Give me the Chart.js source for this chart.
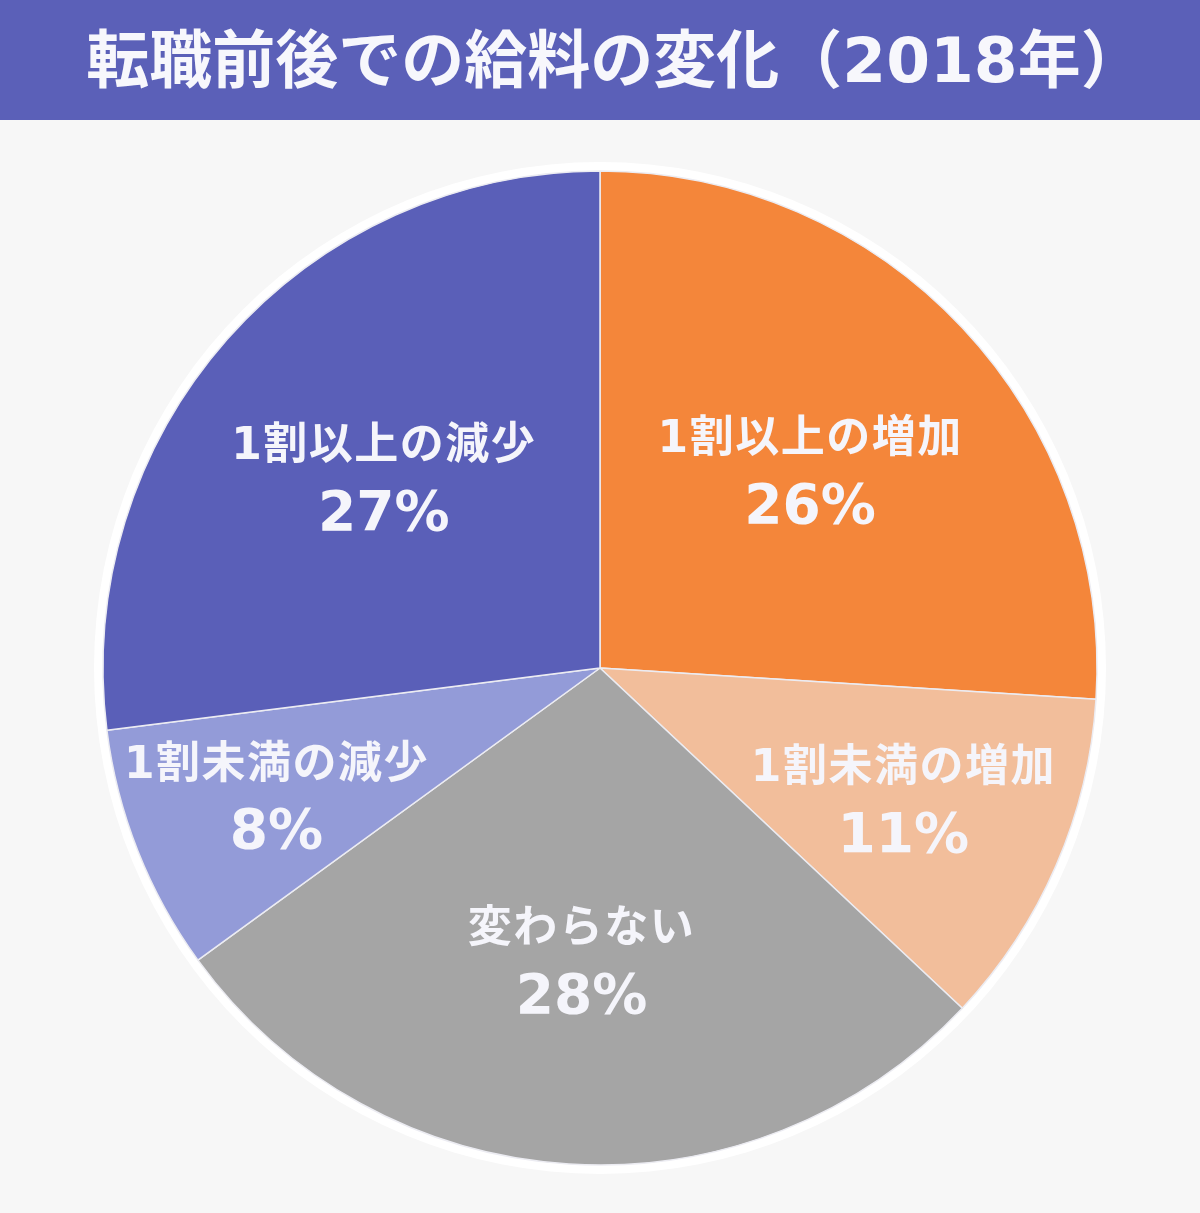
<!DOCTYPE html>
<html lang="ja">
<head>
<meta charset="utf-8">
<script src="https://cdn.jsdelivr.net/npm/chart.js@4"></script>
<style>
    body { margin: 0; background: #f7f7f7; font-family: "DejaVu Sans", "Noto Sans CJK JP", sans-serif; }
    #header {
        height: 120px; background: #5b60b8; color: #f7f7fc;
        font-size: 63px; font-weight: bold; text-align: center; line-height: 122px;
        white-space: nowrap; overflow: hidden; padding-left: 30px;
    }
    #wrap { width: 1200px; height: 1093px; }
</style>
</head>
<body>
<div id="header">転職前後での給料の変化（2018年）</div>
<div id="wrap"><canvas id="pie_chart"></canvas></div>
<script>
const categories = ['1割以上の増加', '1割未満の増加', '変わらない', '1割未満の減少', '1割以上の減少'];
const shares = [26, 11, 28, 8, 27];
const slice_colors = ['#f4863a', '#f2be9b', '#a5a5a5', '#939bd8', '#5a5fb8'];
// how far from the centre each label sits, as a part of the radius
const label_distance = [0.58, 0.665, 0.59, 0.70, 0.58];

const white_ring = {
    id: 'white_ring',
    beforeDatasetsDraw(chart) {
        const arc = chart.getDatasetMeta(0).data[0];
        const ctx = chart.ctx;
        ctx.save();
        ctx.beginPath();
        ctx.arc(arc.x, arc.y, arc.outerRadius + 9, 0, Math.PI * 2);
        ctx.fillStyle = '#ffffff';
        ctx.fill();
        ctx.restore();
    }
};

const slice_labels = {
    id: 'slice_labels',
    afterDatasetsDraw(chart) {
        const ctx = chart.ctx;
        const meta = chart.getDatasetMeta(0);
        ctx.save();
        ctx.fillStyle = '#f5f5fb';
        ctx.textAlign = 'center';
        ctx.textBaseline = 'middle';
        meta.data.forEach((arc, i) => {
            const mid = (arc.startAngle + arc.endAngle) / 2;
            const r = arc.outerRadius * label_distance[i];
            const x = arc.x + Math.cos(mid) * r;
            const y = arc.y + Math.sin(mid) * r;
            ctx.letterSpacing = '1.5px';
            ctx.font = 'bold 44px "DejaVu Sans", "Noto Sans CJK JP"';
            ctx.fillText(categories[i], x, y - 30);
            ctx.letterSpacing = '0px';
            ctx.font = 'bold 55px "DejaVu Sans", "Noto Sans CJK JP"';
            ctx.fillText(shares[i] + '%', x, y + 38);
        });
        ctx.restore();
    }
};

new Chart(document.getElementById('pie_chart'), {
    type: 'pie',
    data: {
        labels: categories,
        datasets: [{
            data: shares,
            backgroundColor: slice_colors,
            borderColor: '#ececf2',
            borderWidth: 1.5
        }]
    },
    options: {
        responsive: true,
        maintainAspectRatio: false,
        animation: false,
        radius: 497,
        layout: { padding: { top: 3 } },
        plugins: {
            legend: { display: false },
            tooltip: { enabled: false }
        }
    },
    plugins: [white_ring, slice_labels]
});
</script>
</body>
</html>
